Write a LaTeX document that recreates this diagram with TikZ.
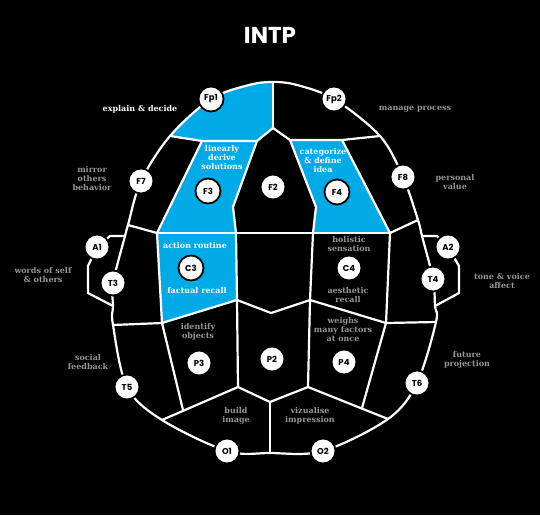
\documentclass[tikz,border=0pt]{standalone}
\usepackage{fontspec}
\setmainfont{DejaVu Serif}
\newfontfamily\popfont{Poppins}
\definecolor{bluereg}{RGB}{0,170,230}
\definecolor{lblgray}{RGB}{150,150,150}
\begin{document}
\begin{tikzpicture}[x=1pt,y=-1pt,
  wl/.style={white,line width=2.2pt,line join=round,line cap=round},
  elec/.style={circle,fill=white,draw=black,line width=1.8pt,minimum size=25pt,inner sep=0pt,font=\popfont\bfseries\fontsize{8.5}{8.5}\selectfont,text=black},
  lbl/.style={align=center,font=\bfseries\fontsize{8}{9}\selectfont,text=lblgray,inner sep=0pt},
  wlbl/.style={lbl,text=white}]
\fill[black] (0,0) rectangle (540,515);
\path[use as bounding box] (0,0) rectangle (540,515);
\def\headoutline{plot[smooth cycle,tension=0.55] coordinates {(273,82) (297,85) (334,99) (380,136) (403,177) (418,220) (422,236) (433,279) (435,306) (436,322) (417,383) (388,419) (323,451) (270,453) (227,451) (162,420) (127,387) (113,325) (113,306) (113,283) (125,236) (128,225) (141,181) (170,136) (211,99) (249,85)}}
% junction coordinates
\coordinate (top) at (273,82);
\coordinate (topj) at (273,128);
\coordinate (lo1) at (170,136);
\coordinate (f3tl) at (202,141);
\coordinate (f3tr) at (257,141);
\coordinate (f3m) at (233,207);
\coordinate (c3tr) at (236,233);
\coordinate (c3tl) at (157,233);
\coordinate (lo2) at (128,225);
\coordinate (f4tl) at (290,140);
\coordinate (f4tr) at (342,140);
\coordinate (ro1) at (380,136);
\coordinate (f4m) at (316,207);
\coordinate (c4tl) at (313,233);
\coordinate (c4tr) at (390,233);
\coordinate (ro2) at (418,220);
\coordinate (c3br) at (237,300);
\coordinate (c3bl) at (162,323);
\coordinate (cmid) at (271,313);
\coordinate (c4bl) at (310,300);
\coordinate (c4br) at (386,323);
\coordinate (lo3) at (113,325);
\coordinate (ro3) at (436,322);
\coordinate (p3b) at (238,387);
\coordinate (p4b) at (308,387);
\coordinate (p2b) at (270,402);
\coordinate (lo4) at (162,420);
\coordinate (ro4) at (388,419);
\coordinate (bot) at (270,453);
\coordinate (p3l) at (183,410);
\coordinate (p4r) at (362,408);
\coordinate (la1) at (125,236);
\coordinate (la2) at (113,306);
\coordinate (ra1) at (422,236);
\coordinate (ra2) at (435,306);
\coordinate (a1c) at (97,247);
\coordinate (a2c) at (448,247);
% blue regions
\begin{scope}
\clip \headoutline;
\fill[bluereg] (273,60) -- (topj) -- (f3tr) -- (f3tl) -- (lo1) -- (110,134) -- (110,60) -- cycle;
\end{scope}
\fill[bluereg] (f3tl) -- (f3tr) -- (f3m) -- (c3tr) -- (c3tl) -- cycle;
\fill[bluereg] (c3tl) -- (c3tr) -- (c3br) -- (c3bl) -- cycle;
\fill[bluereg] (f4tl) -- (f4tr) -- (c4tr) -- (c4tl) -- (f4m) -- cycle;
% inner lines
\draw[wl] (top) -- (topj);
\draw[wl] (lo1) -- (f3tl) -- (f3tr) -- (topj) -- (f4tl) -- (f4tr) -- (ro1);
\draw[wl] (f3tl) -- (c3tl);
\draw[wl] (lo2) -- (c3tl);
\draw[wl] (f3tr) -- (f3m) -- (c3tr);
\draw[wl] (f4tl) -- (f4m) -- (c4tl);
\draw[wl] (f4tr) -- (c4tr) -- (ro2);
\draw[wl] (c3tl) -- (c4tr);
\draw[wl] (c3tl) -- (c3bl);
\draw[wl] (c3tr) -- (c3br);
\draw[wl] (c4tl) -- (c4bl);
\draw[wl] (c4tr) -- (c4br);
\draw[wl] (c3bl) -- (c3br) -- (cmid) -- (c4bl) -- (c4br);
\draw[wl] (lo3) -- (c3bl);
\draw[wl] (c4br) -- (ro3);
\draw[wl] (c3bl) -- (p3l);
\draw[wl] (c4br) -- (p4r);
\draw[wl] (c3br) -- (p3b);
\draw[wl] (c4bl) -- (p4b);
\draw[wl] (lo4) -- (p3b) -- (p2b) -- (p4b) -- (ro4);
\draw[wl] (p2b) -- (bot);
% A1 / A2 brackets
\draw[wl] (la1) -- (110,236) -- (a1c);
\draw[wl] (a1c) -- (88,266) -- (88,293) -- (la2);
\draw[wl] (ra1) -- (437,236) -- (a2c);
\draw[wl] (a2c) -- (459,266) -- (459,293) -- (ra2);
% outline
\draw[wl] \headoutline;
% electrode nodes
\node[elec] (Fp1) at (211,99) {Fp1};
\node[elec] (Fp2) at (334,99) {Fp2};
\node[elec] (F7) at (141,181) {F7};
\node[elec] (F3) at (208,191) {F3};
\node[elec] (F2) at (273,187) {F2};
\node[elec] (F4) at (337,192) {F4};
\node[elec] (F8) at (403,177) {F8};
\node[elec] (A1) at (a1c) {A1};
\node[elec] (T3) at (113,283) {T3};
\node[elec] (C3) at (191,268) {C3};
\node[elec] (C4) at (349,268) {C4};
\node[elec] (T4) at (433,279) {T4};
\node[elec] (A2) at (a2c) {A2};
\node[elec] (P3) at (199,363) {P3};
\node[elec] (P2) at (272,359) {P2};
\node[elec] (P4) at (344,362) {P4};
\node[elec] (T5) at (127,387) {T5};
\node[elec] (T6) at (417,383) {T6};
\node[elec] (O1) at (227,451) {O1};
\node[elec] (O2) at (323,451) {O2};
% title
\node[text=white,font=\popfont\bfseries\fontsize{23}{23}\selectfont] (title) at (270,35) {INTP};
% labels
\node[wlbl] (l1) at (140,109) {explain \& decide};
\node[lbl] (l2) at (415,109) {manage process};
\node[lbl] (l3) at (92,179) {mirror\\others\\behavior};
\node[wlbl] (l4) at (222,158) {linearly\\derive\\solutions};
\node[wlbl] (l5) at (323,161) {categorize\\\& define\\idea};
\node[lbl] (l6) at (455,182) {personal\\value};
\node[lbl] (l7) at (43,275) {words of self\\\& others};
\node[lbl] (l8) at (502,281) {tone \& voice\\affect};
\node[wlbl] (l9) at (195,246) {action routine};
\node[wlbl] (l10) at (197,291) {factual recall};
\node[lbl] (l11) at (349,244) {holistic\\sensation};
\node[lbl] (l12) at (348,295) {aesthetic\\recall};
\node[lbl] (l13) at (198,332) {identify\\objects};
\node[lbl] (l14) at (343,330) {weighs\\many factors\\at once};
\node[lbl] (l15) at (88,362) {social\\feedback};
\node[lbl] (l16) at (467,360) {future\\projection};
\node[lbl] (l17) at (236,416) {build\\image};
\node[lbl] (l18) at (310,416) {vizualise\\impression};
\end{tikzpicture}
\end{document}
